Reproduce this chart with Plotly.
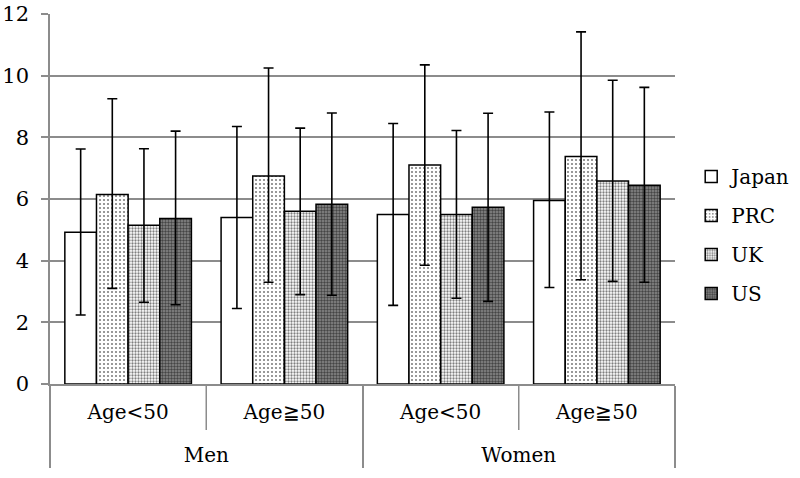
import plotly.graph_objects as go

sex = ["Men", "Men", "Women", "Women"]
age = ["Age<50", "Age≧50", "Age<50", "Age≧50"]
countries = ["Japan", "PRC", "UK", "US"]

means = {
    "Japan": [4.92, 5.40, 5.50, 5.95],
    "PRC":   [6.15, 6.75, 7.10, 7.38],
    "UK":    [5.15, 5.60, 5.50, 6.58],
    "US":    [5.37, 5.83, 5.73, 6.45],
}
upper = {
    "Japan": [2.70, 2.95, 2.95, 2.87],
    "PRC":   [3.10, 3.50, 3.25, 4.04],
    "UK":    [2.48, 2.70, 2.72, 3.27],
    "US":    [2.83, 2.96, 3.05, 3.17],
}
lower = {
    "Japan": [2.68, 2.95, 2.95, 2.82],
    "PRC":   [3.05, 3.45, 3.25, 4.00],
    "UK":    [2.50, 2.70, 2.72, 3.25],
    "US":    [2.80, 2.95, 3.05, 3.15],
}

patterns = {
    "Japan": dict(shape=""),
    "PRC": dict(shape=".", size=4, solidity=0.22, fgcolor="black", bgcolor="white"),
    "UK": dict(shape=".", size=3, solidity=0.45, fgcolor="black", bgcolor="white"),
    "US": dict(shape=".", size=3, solidity=0.5, fgcolor="black", bgcolor="#8a8a8a"),
}

FONT = "DejaVu Serif"
GRID = "#8c8c8c"

fig = go.Figure()
for c in countries:
    fig.add_trace(go.Bar(
        name=c, legendgroup=c,
        x=[["<br>" + s for s in sex], age],
        y=means[c],
        marker=dict(color="white", line=dict(color="black", width=1.5), pattern=patterns[c]),
        error_y=dict(type="data", symmetric=False, array=upper[c], arrayminus=lower[c],
                     color="black", thickness=1.6, width=5),
    ))

# short dividers between the age sub-categories
for xp in [0.25, 0.75]:
    fig.add_shape(type="line", xref="paper", yref="paper", x0=xp, x1=xp, y0=0, y1=-46 / 370,
                  line=dict(color=GRID, width=1.5))

fig.update_layout(
    width=800, height=478, autosize=False,
    paper_bgcolor="white", plot_bgcolor="white",
    margin=dict(l=50, r=125, t=14, b=94),
    barmode="group", bargap=0.19, bargroupgap=0,
    font=dict(family=FONT, size=20, color="black"),
    legend=dict(xref="container", x=0.864, y=0.403, yanchor="middle", xanchor="left",
                font=dict(family=FONT, size=20), tracegroupgap=10, itemwidth=30),
    showlegend=True,
)
fig.update_yaxes(range=[0, 12], dtick=2, showgrid=True, gridcolor=GRID, gridwidth=1.5,
                 showline=True, linecolor=GRID, linewidth=1.5,
                 ticks="outside", ticklen=7, tickcolor=GRID, tickwidth=1.5,
                 zeroline=False, ticklabelstandoff=8, automargin=False,
                 tickfont=dict(size=21))
fig.update_xaxes(showline=True, linecolor=GRID, linewidth=1.5,
                 showdividers=True, dividercolor=GRID, dividerwidth=1.5,
                 automargin=False, ticklabelstandoff=9)

fig.write_html(
    "out.html",
    config={"responsive": False, "displayModeBar": False},
    post_script="document.body.style.margin='0';document.body.style.overflow='hidden';",
)
